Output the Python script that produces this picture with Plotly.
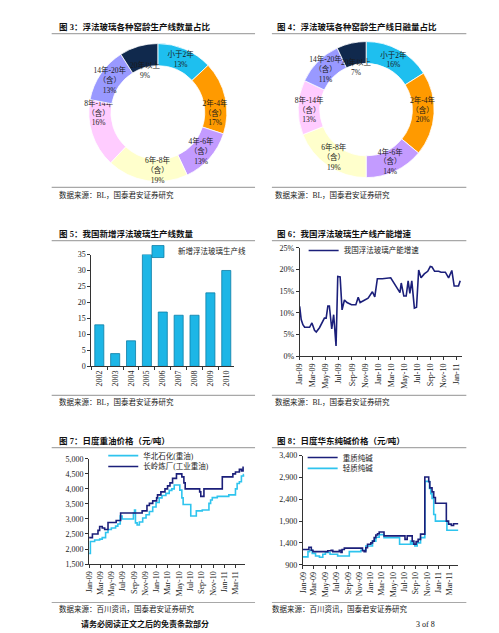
import math
import plotly.graph_objects as go

W, H = 499, 633
FONT = "Liberation Serif, Noto Sans CJK SC, serif"

# ---------------- data ----------------
age_groups = ["小于2年", "2年-4年<br>（含）", "4年-6年<br>（含）", "6年-8年<br>（含）",
              "8年-14年<br>（含）", "14年-20年<br>（含）", "20年以上"]
share_lines = [13, 17, 13, 19, 16, 13, 9]
share_melt = [16, 20, 14, 19, 13, 11, 7]
age_colors = ["#1EBFEF", "#FF9A00", "#C39BFF", "#FFFFCC", "#FFCCFF", "#9999FF", "#10294D"]

years = ["2002", "2003", "2004", "2005", "2006", "2007", "2008", "2009", "2010"]
new_lines = [13, 4, 8, 35, 17, 16, 16, 23, 30]

dates6 = ['2009-01-01', '2009-01-08', '2009-01-16', '2009-01-24', '2009-02-16', '2009-02-27', '2009-03-11',
          '2009-03-19', '2009-04-03', '2009-04-19', '2009-04-26', '2009-05-04', '2009-05-12', '2009-05-19',
          '2009-05-30', '2009-06-08', '2009-06-19', '2009-06-27', '2009-07-08', '2009-07-17', '2009-07-28',
          '2009-08-09', '2009-08-30', '2009-09-19', '2009-09-30', '2009-10-09', '2009-10-23', '2009-11-04',
          '2009-11-15', '2009-12-05', '2009-12-16', '2009-12-28', '2010-01-20', '2010-02-28', '2010-03-15',
          '2010-03-30', '2010-04-12', '2010-04-18', '2010-04-30', '2010-05-11', '2010-05-20', '2010-05-28',
          '2010-06-06', '2010-06-18', '2010-06-28', '2010-07-08', '2010-07-19', '2010-08-03', '2010-08-19',
          '2010-08-31', '2010-09-08', '2010-09-20', '2010-10-09', '2010-10-20', '2010-11-09', '2010-11-24',
          '2010-12-09', '2010-12-20', '2011-01-09', '2011-01-17']
capacity_growth = [11.5, 8.5, 7.3, 6.7, 6.7, 7.7, 6.0, 5.6, 6.6, 8.1, 8.8, 8.8, 11.6, 11.6, 6.3, 9.6, 2.4,
                   18.4, 18.3, 10.7, 13.0, 12.4, 11.9, 11.9, 13.6, 12.4, 12.8, 13.1, 13.4, 14.9, 13.7, 17.9,
                   17.9, 18.1, 16.8, 15.6, 14.7, 16.9, 13.9, 13.9, 17.4, 14.5, 17.4, 11.1, 11.3, 19.9, 18.1,
                   19.0, 19.6, 20.7, 20.6, 19.6, 19.6, 19.4, 19.4, 18.1, 19.8, 16.2, 16.2, 17.4]

dates_cl = ['2009-01-01', '2009-01-19', '2009-02-18', '2009-02-27', '2009-03-13', '2009-03-26', '2009-04-13',
            '2009-05-27', '2009-06-20', '2009-10-14', '2009-11-09', '2009-11-22', '2009-12-10', '2009-12-31',
            '2010-01-05', '2010-01-23', '2010-02-14', '2010-02-28', '2010-03-13', '2010-03-27', '2010-04-17',
            '2010-05-16', '2010-05-27', '2010-06-03', '2010-08-20', '2010-08-26', '2010-09-12', '2010-12-20',
            '2011-02-15', '2011-03-01', '2011-03-22', '2011-04-02', '2011-04-11', '2011-04-15']
price_cl = [2380, 2500, 2620, 2750, 2700, 2650, 2880, 2950, 3200, 3270, 3450, 3520, 3600, 3700, 3800, 3900,
            4000, 4100, 4200, 4350, 4500, 4400, 4200, 4000, 3900, 3750, 4000, 4400, 4500, 4560, 4650, 4600,
            4720, 4720]

dates_hb = ['2009-01-01', '2009-01-08', '2009-01-31', '2009-02-27', '2009-03-13', '2009-03-31', '2009-04-13',
            '2009-05-01', '2009-05-24', '2009-06-05', '2009-06-18', '2009-06-28', '2009-08-28', '2009-09-03',
            '2009-09-08', '2009-09-17', '2009-09-29', '2009-10-17', '2009-11-04', '2009-11-22', '2009-12-10',
            '2009-12-28', '2010-01-14', '2010-01-29', '2010-02-19', '2010-03-09', '2010-03-23', '2010-04-05',
            '2010-05-05', '2010-05-16', '2010-05-23', '2010-07-03', '2010-08-02', '2010-09-03', '2010-10-09',
            '2010-10-18', '2010-10-27', '2010-11-23', '2011-01-24', '2011-03-01', '2011-03-10', '2011-03-22',
            '2011-04-02', '2011-04-13', '2011-04-15']
price_hb = [1850, 2250, 2300, 2330, 2380, 2550, 2650, 2700, 2760, 2830, 3100, 3000, 3200, 3300, 2870, 2800,
            2900, 3030, 3140, 3250, 3400, 3550, 3700, 3780, 3850, 3950, 4000, 4130, 3960, 3700, 3480, 3100,
            3270, 3300, 3520, 3630, 3710, 3750, 3800, 4000, 4180, 4240, 4430, 4480, 4480]

dates_heavy = ['2009-01-01', '2009-02-02', '2009-02-15', '2009-02-24', '2009-05-15', '2009-06-02', '2009-06-11',
               '2009-07-16', '2009-07-25', '2009-07-31', '2009-08-12', '2009-11-18', '2009-11-27', '2009-12-06',
               '2009-12-15', '2010-01-02', '2010-01-11', '2010-01-20', '2010-01-29', '2010-02-07', '2010-02-16',
               '2010-03-14', '2010-07-05', '2010-07-17', '2010-08-13', '2010-08-22', '2010-09-03', '2010-09-14',
               '2010-09-27', '2010-10-20', '2010-11-10', '2010-11-16', '2010-11-28', '2010-12-07', '2010-12-16',
               '2011-02-13', '2011-02-25', '2011-03-12', '2011-03-24', '2011-04-19']
price_heavy = [1250, 1300, 1230, 1200, 1220, 1230, 1200, 1230, 1180, 1250, 1280, 1220, 1200, 1290, 1370, 1400,
               1440, 1520, 1580, 1610, 1650, 1560, 1480, 1560, 1440, 1370, 1430, 1480, 1600, 2910, 2800, 2660,
               2570, 2440, 2310, 1900, 1830, 1800, 1840, 1840]

dates_light = ['2009-01-01', '2009-01-28', '2009-02-06', '2009-02-20', '2009-03-10', '2009-03-31', '2009-04-18',
               '2009-05-02', '2009-05-27', '2009-07-07', '2009-09-08', '2009-11-09', '2009-12-06', '2010-01-11',
               '2010-01-29', '2010-02-16', '2010-03-14', '2010-06-06', '2010-08-04', '2010-08-13', '2010-08-27',
               '2010-09-09', '2010-09-27', '2010-10-20', '2010-11-14', '2010-11-21', '2010-11-28', '2010-12-07',
               '2010-12-16', '2011-02-16', '2011-04-19']
price_light = [1080, 1200, 1230, 1160, 1100, 1070, 1140, 1180, 1140, 1100, 1200, 1230, 1330, 1440, 1530, 1590,
               1520, 1370, 1440, 1370, 1330, 1400, 1520, 2810, 2650, 2530, 2420, 2050, 1900, 1690, 1690]

# ---------------- helpers ----------------
def fx(px):
    return px / W


def fy(py):
    return 1 - py / H


NAVY = "#1B1F7A"
CYAN = "#2EC4EE"
AX = "#333333"
tickfont = dict(size=8, family=FONT, color="#222")
PIE_FONT = dict(size=7.5, family=FONT, color="#1a1a1a")

fig = go.Figure()

pies = [(share_lines, 147, 102, 70), (share_melt, 357, 99, 69)]
for vals, cx, cy, r in pies:
    texts = ["%s<br>%d%%" % (g, v) for g, v in zip(age_groups, vals)]
    texts[-1] = ""
    fig.add_trace(go.Pie(
        labels=age_groups, values=vals, sort=False, direction="clockwise", rotation=0,
        hole=0.68, marker=dict(colors=age_colors, line=dict(color="white", width=0.8)),
        text=texts, texttemplate="%{text}", textposition="inside",
        insidetextorientation="horizontal", textfont=PIE_FONT,
        domain=dict(x=[fx(cx - r), fx(cx + r)], y=[fy(cy + r), fy(cy - r)]),
        showlegend=False, hoverinfo="label+percent"))
    # label of the last (dark) slice sits at the inner edge of the ring
    total = sum(vals)
    mid = (total - vals[-1] / 2) / total * 2 * math.pi
    rl = 0.64 * r
    fig.add_annotation(x=fx(cx + rl * math.sin(mid)), y=fy(cy - rl * math.cos(mid)), xref="paper",
                       yref="paper", text="%s<br>%d%%" % (age_groups[-1], vals[-1]), showarrow=False,
                       xanchor="center", yanchor="middle", font=PIE_FONT)

fig.add_trace(go.Bar(x=years, y=new_lines, name="新增浮法玻璃生产线",
                     marker=dict(color="#1DB6E6", line=dict(color="#0E7DA6", width=0.8)),
                     xaxis="x", yaxis="y", legend="legend"))

fig.add_trace(go.Scatter(x=dates6, y=capacity_growth, mode="lines", name="我国浮法玻璃产能增速",
                         line=dict(color=NAVY, width=1.6), xaxis="x2", yaxis="y2", legend="legend2"))

fig.add_trace(go.Scatter(x=dates_hb, y=price_hb, mode="lines", name="华北石化(重油)",
                         line=dict(color=CYAN, width=1.6, shape="hv"), xaxis="x3", yaxis="y3",
                         legend="legend3"))
fig.add_trace(go.Scatter(x=dates_cl, y=price_cl, mode="lines", name="长岭炼厂(工业重油)",
                         line=dict(color=NAVY, width=1.6, shape="hv"), xaxis="x3", yaxis="y3",
                         legend="legend4"))

fig.add_trace(go.Scatter(x=dates_light, y=price_light, mode="lines", name="轻质纯碱",
                         line=dict(color=CYAN, width=1.6, shape="hv"), xaxis="x4", yaxis="y4",
                         legend="legend6"))
fig.add_trace(go.Scatter(x=dates_heavy, y=price_heavy, mode="lines", name="重质纯碱",
                         line=dict(color=NAVY, width=1.6, shape="hv"), xaxis="x4", yaxis="y4",
                         legend="legend5"))


def yaxis(dom_px, rng, dtick, anchor, **kw):
    d = dict(domain=[fy(dom_px[1]), fy(dom_px[0])], range=rng, dtick=dtick, tick0=rng[0],
             showline=True, linecolor=AX, linewidth=1, ticks="outside", ticklen=3, tickcolor=AX,
             showgrid=False, zeroline=False, tickfont=tickfont, anchor=anchor)
    d.update(kw)
    return d


def xdate(dom_px, rng, anchor):
    return dict(domain=[fx(dom_px[0]), fx(dom_px[1])], range=rng, type="date", dtick="M2",
                tick0="2009-01-01", tickformat="%b-%y", tickangle=-90, showline=True, linecolor=AX,
                linewidth=1, ticks="outside", ticklen=3, tickcolor=AX, showgrid=False, zeroline=False,
                tickfont=tickfont, anchor=anchor)


def leg(x_px, y_px):
    return dict(x=fx(x_px), y=fy(y_px), xanchor="left", yanchor="middle", bgcolor="rgba(0,0,0,0)",
                borderwidth=0, font=dict(size=7.5, family=FONT, color="#222"), itemwidth=30)


layout = dict(
    width=W, height=H, margin=dict(l=0, r=0, t=0, b=0), paper_bgcolor="white", plot_bgcolor="white",
    font=dict(family=FONT, color="#222"),
    uniformtext=dict(minsize=7.5, mode="show"),
    bargap=0.43,
    xaxis=dict(domain=[fx(80), fx(224)], type="category", tickangle=-90, showline=True, linecolor=AX,
               linewidth=1, ticks="outside", ticklen=3, tickcolor=AX, tickson="boundaries",
               showgrid=False, tickfont=tickfont, anchor="y"),
    yaxis=yaxis([246, 359.5], [0, 35], 5, "x"),
    xaxis2=xdate([290, 454], ["2009-01-01", "2011-01-27"], "y2"),
    yaxis2=yaxis([239.3, 349.3], [0, 25], 5, "x2", ticksuffix="%"),
    xaxis3=xdate([77.7, 235], ["2009-01-01", "2011-04-22"], "y3"),
    yaxis3=yaxis([453.3, 560], [1500, 5000], 500, "x3", tickformat=","),
    xaxis4=xdate([293.3, 450], ["2009-01-01", "2011-04-19"], "y4"),
    yaxis4=yaxis([450, 560.7], [900, 3400], 500, "x4", tickformat=","),
    legend=leg(127, 243),
    legend2=leg(294, 242),
    legend3=leg(92, 450),
    legend4=leg(92, 461),
    legend5=leg(293, 452),
    legend6=leg(293, 463),
)
fig.update_layout(**layout)

# titles / sources / separators
titles = [
    (45, 15, "图 3：浮法玻璃各种窑龄生产线数量占比"),
    (265, 15, "图 4：浮法玻璃各种窑龄生产线日融量占比"),
    (45, 225, "图 5：我国新增浮法玻璃生产线数量"),
    (265, 225, "图 6：我国浮法玻璃生产线产能增速"),
    (45, 435, "图 7：日度重油价格（元/吨）"),
    (265, 435, "图 8：日度华东纯碱价格（元/吨）"),
]
for x, y, t in titles:
    fig.add_annotation(x=fx(x), y=fy(y), xref="paper", yref="paper", text="<b>" + t + "</b>",
                       showarrow=False, xanchor="left", yanchor="middle",
                       font=dict(size=8.5, family=FONT, color="#111"))

sources = [
    (45, 186, "数据来源：BL，国泰君安证券研究"),
    (263, 186, "数据来源：BL，国泰君安证券研究"),
    (45, 396, "数据来源：BL，国泰君安证券研究"),
    (263, 396, "数据来源：BL，国泰君安证券研究"),
    (45, 606, "数据来源：百川资讯，国泰君安证券研究"),
    (260, 606, "数据来源：百川资讯，国泰君安证券研究"),
]
for x, y, t in sources:
    fig.add_annotation(x=fx(x), y=fy(y), xref="paper", yref="paper", text=t, showarrow=False,
                       xanchor="left", yanchor="middle", font=dict(size=7.5, family=FONT, color="#222"))

fig.add_annotation(x=fx(134), y=fy(621), xref="paper", yref="paper", text="<b>请务必阅读正文之后的免责条款部分</b>",
                   showarrow=False, xanchor="center", yanchor="middle",
                   font=dict(size=8, family=FONT, color="#111"))
fig.add_annotation(x=fx(417), y=fy(621), xref="paper", yref="paper", text="3 of 8",
                   showarrow=False, xanchor="center", yanchor="middle",
                   font=dict(size=8, family=FONT, color="#111"))

for ypx in [22, 178, 232, 389, 442, 599]:
    for x0, x1 in [(40, 245), (262, 458)]:
        fig.add_shape(type="line", xref="paper", yref="paper", x0=fx(x0), x1=fx(x1), y0=fy(ypx),
                      y1=fy(ypx), line=dict(color="#A8A8A8", width=1.2))

fig.write_html("out.html")
